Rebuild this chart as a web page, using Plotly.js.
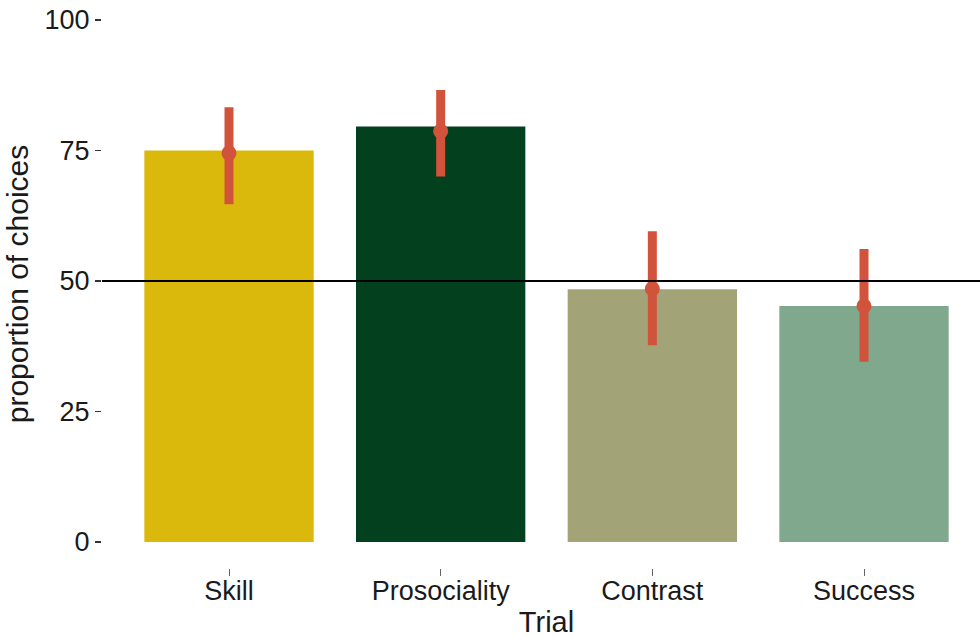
<!DOCTYPE html>
<html>
<head>
<meta charset="utf-8">
<script src="https://cdn.plot.ly/plotly-3.0.1.min.js"></script>
<style>
  html, body { margin: 0; padding: 0; overflow: hidden; background: #ffffff; }
  #chart { width: 991px; height: 638px; }
</style>
</head>
<body>
<div id="chart"></div>
<script>
// ---- data ----
const trials = ['Skill', 'Prosociality', 'Contrast', 'Success'];
const barValues = [75.0, 79.6, 48.4, 45.2];
const pointValues = [74.5, 78.7, 48.5, 45.2];
const upperValues = [83.3, 86.6, 59.5, 56.1];
const lowerValues = [64.7, 70.0, 37.7, 34.5];
const barColors = ['#DAB80C', '#03401E', '#A2A477', '#80A88C'];
const yTickValues = [0, 25, 50, 75, 100];
const yTickLabels = ['0', '25', '50', '75', '100'];
const refLine = 50;

const errColor = '#D2533B';
const fontFamily = '"Liberation Sans", Arial, Helvetica, sans-serif';
const textColor = '#1a1a1a';

const bars = {
  type: 'bar',
  x: trials,
  y: barValues,
  width: 0.8,
  marker: { color: barColors, line: { width: 0 } },
  hoverinfo: 'x+y',
  showlegend: false
};

const points = {
  type: 'scatter',
  mode: 'markers',
  x: trials,
  y: pointValues,
  marker: { color: errColor, size: 15 },
  error_y: {
    type: 'data',
    symmetric: false,
    array: upperValues.map((u, i) => u - pointValues[i]),
    arrayminus: lowerValues.map((l, i) => pointValues[i] - l),
    color: errColor,
    thickness: 9,
    width: 0
  },
  showlegend: false
};

const layout = {
  width: 991,
  height: 638,
  margin: { l: 102, r: 0, t: 0, b: 70 },
  paper_bgcolor: '#ffffff',
  plot_bgcolor: '#ffffff',
  font: { family: fontFamily, color: textColor, size: 27 },
  bargap: 0.2,
  xaxis: {
    type: 'category',
    range: [-0.6, 3.6],
    showgrid: false,
    zeroline: false,
    showline: false,
    ticks: 'outside',
    ticklen: 7,
    tickwidth: 1,
    tickcolor: '#666',
    ticklabelstandoff: -8,
    tickfont: { family: fontFamily, size: 27, color: textColor },
    title: { text: 'Trial', font: { family: fontFamily, size: 29, color: textColor }, standoff: 12 },
    automargin: false
  },
  yaxis: {
    range: [-5, 103.83],
    showgrid: false,
    zeroline: false,
    showline: false,
    tickmode: 'array',
    tickvals: yTickValues,
    ticktext: yTickLabels,
    ticks: 'outside',
    ticklen: 6,
    tickwidth: 1.2,
    tickcolor: '#333',
    tickfont: { family: fontFamily, size: 27, color: textColor },
    title: { text: 'proportion of choices', font: { family: fontFamily, size: 30, color: textColor }, standoff: 7 },
    automargin: false
  },
  shapes: [{
    type: 'line',
    xref: 'paper', x0: 0, x1: 1,
    yref: 'y', y0: refLine, y1: refLine,
    line: { color: '#000000', width: 2 },
    layer: 'above'
  }]
};

Plotly.newPlot('chart', [bars, points], layout, { displayModeBar: false, staticPlot: true });
</script>
</body>
</html>
